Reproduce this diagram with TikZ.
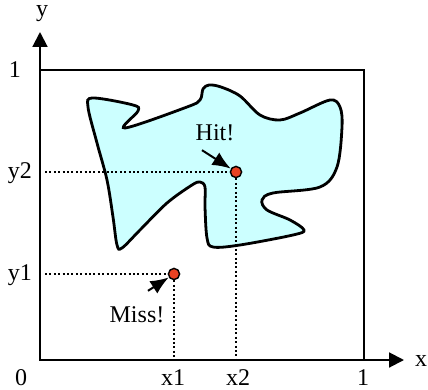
\documentclass[tikz,border=0pt]{standalone}
\usepackage{fontspec}
\setmainfont{Liberation Serif}
\usetikzlibrary{arrows.meta,positioning}
\definecolor{blobcyan}{RGB}{204,255,255}
\definecolor{dotred}{RGB}{234,66,34}

\begin{document}
\begin{tikzpicture}[x=0.5pt,y=-0.5pt,
    font=\fontsize{12}{14}\selectfont,
    axis/.style={line width=1pt,-{Triangle[length=2.6mm,width=2.6mm]}},
    frame/.style={line width=1pt},
    guide/.style={line width=1.1pt,dash pattern=on 1pt off 1.2pt},
    sample/.style={circle,draw,line width=0.7pt,fill=dotred,inner sep=0pt,minimum size=5.6pt},
    arrow/.style={-{Latex[length=3.2mm,width=2.6mm]},line width=1pt},
    region/.style={draw,line width=1.4pt,fill=blobcyan}
]
    \useasboundingbox (0,0) rectangle (428,390);
    % axes and unit square
    \coordinate (O) at (40,360);
    \coordinate (xend) at (404,360);
    \coordinate (yend) at (40,32);
    \draw[frame] (O) rectangle (364,70);
    % target region
    \draw[region] plot[smooth cycle,tension=0.55] coordinates {
        (93,98) (133,105) (138,111) (125,128) (187,107) (200,100) (203,89)
        (209,85) (221,87) (240,96) (260,115) (280,120) (300,113) (330,100)
        (340,107) (342,127) (337,167) (320,187) (273,193) (262,200) (267,210)
        (290,220) (304,230) (293,235) (240,245) (213,247) (207,238) (205,207)
        (205,187) (200,182) (192,185) (167,203) (140,230) (122,248) (117,245)
        (113,217) (107,180) (97,143) (88,107)};
    \draw[axis] (O)--(xend);
    \draw[axis] (O)--(yend);
    % samples
    \node[sample] (hit) at (236,172) {};
    \node[sample] (miss) at (174,274) {};
    \coordinate (y2mark) at (45,172);
    \coordinate (y1mark) at (45,274);
    \draw[guide] (y2mark)--(hit.west);
    \draw[guide] (hit.south)--(hit |- O);
    \draw[guide] (y1mark)--(miss.west);
    \draw[guide] (miss.south)--(miss |- O);
    \node (hittext) at (215,133) {Hit!};
    \node (misstext) at (137,315) {Miss!};
    \draw[arrow] ([shift={(-13,2)}]hittext.south)--(hit);
    \draw[arrow] ([shift={(11,-9)}]misstext.north)--(miss);
    % labels
    \node (ylab) at (42,14) {y};
    \node (xlab) at (421,361) {x};
    \node (zero) at (21,378) {0};
    \node (xone) at (363,378) {1};
    \node (yone) at (15,70) {1};
    \node (xa) at (173,378) {x1};
    \node (xb) at (238,378) {x2};
    \node (ya) at (20,275) {y1};
    \node (yb) at (20,173) {y2};
\end{tikzpicture}
\end{document}
